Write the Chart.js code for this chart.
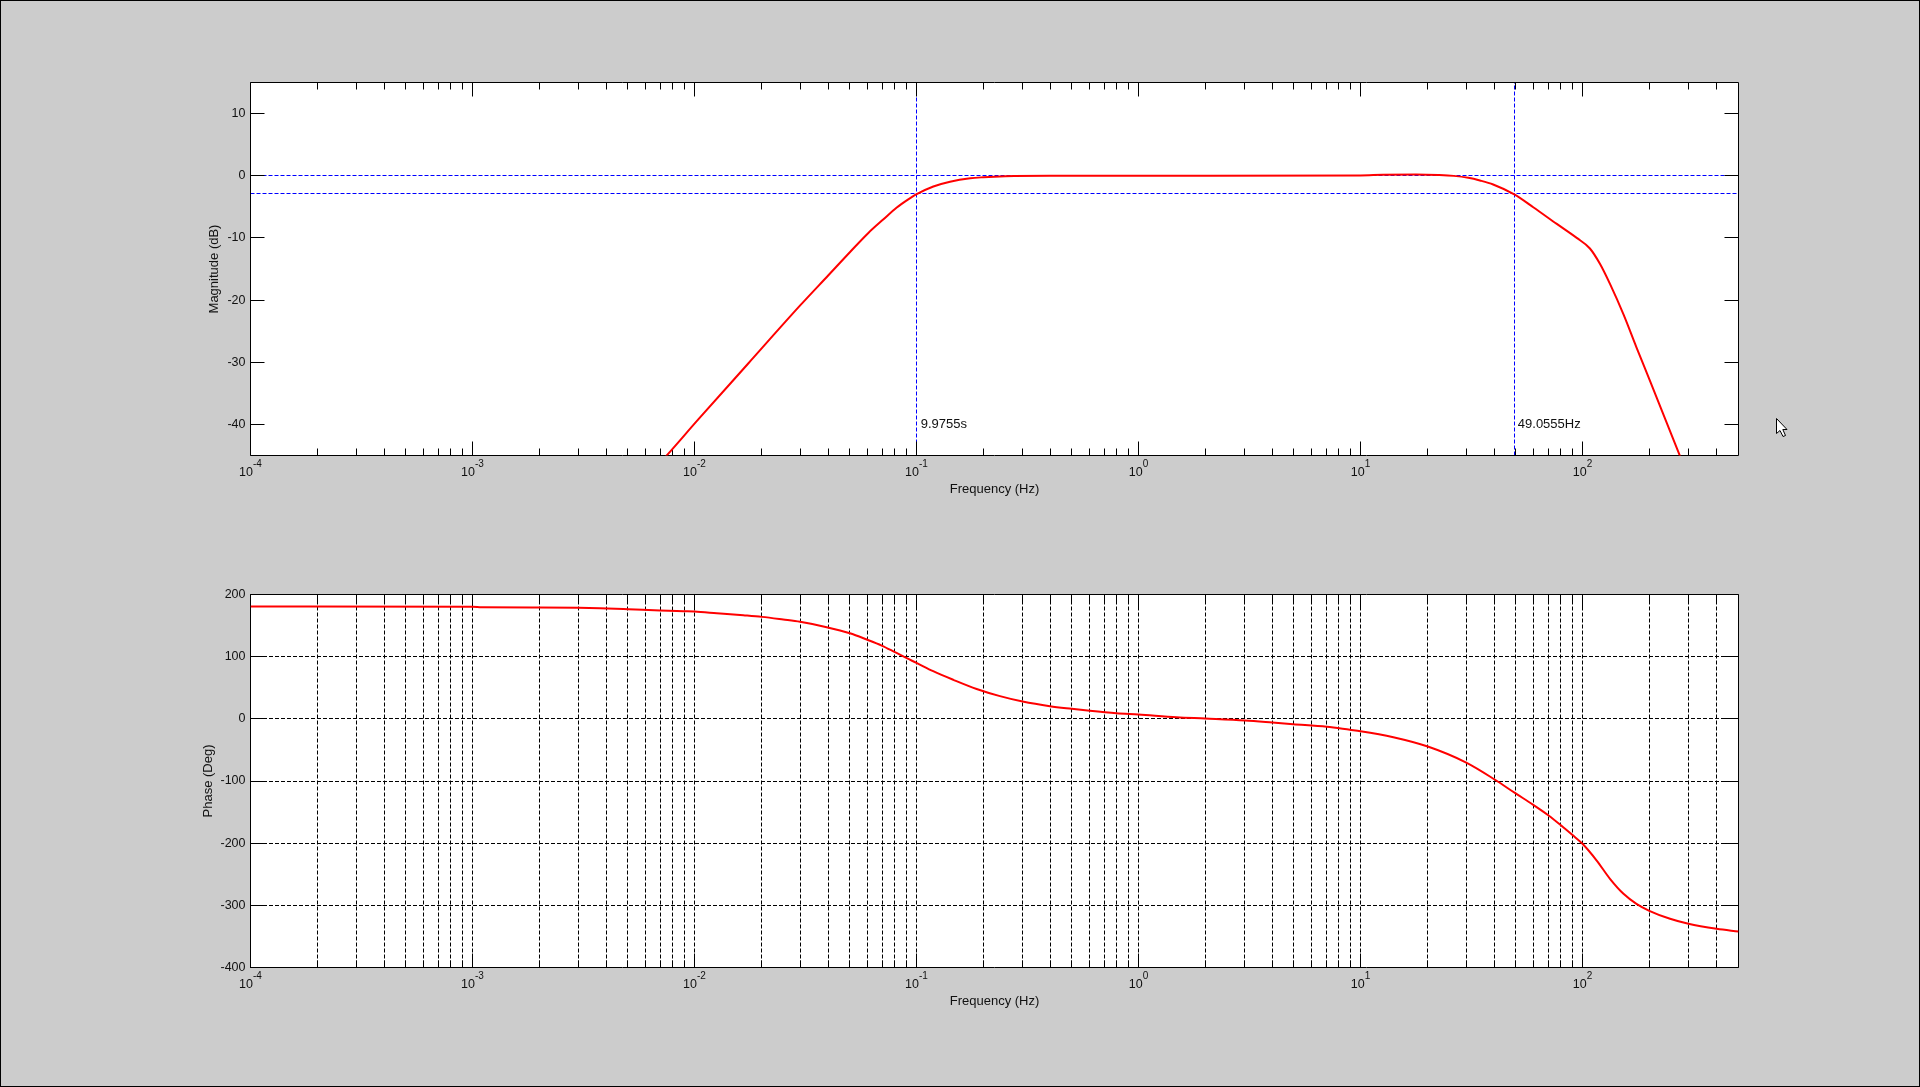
<!DOCTYPE html>
<html><head><meta charset="utf-8">
<style>
html,body{margin:0;padding:0;background:#cccccc;overflow:hidden}
#page{position:relative;width:1920px;height:1087px;box-sizing:border-box;border:1px solid #000;background:#cccccc;overflow:hidden}
canvas{position:absolute;left:-1px}
#c1{top:-1px}#c2{top:539px}
#cursor{position:absolute;left:1774px;top:416px}
</style>
<script src="https://cdn.jsdelivr.net/npm/chart.js@4"></script>
</head><body><div id="page">
<canvas id="c1" width="1920" height="540"></canvas>
<canvas id="c2" width="1920" height="547"></canvas>
<svg id="cursor" width="14" height="22" viewBox="0 0 14 22"><polygon points="1.5,1.5 1.5,16.5 5,13.5 8,19.5 10.5,18.5 7.8,12.5 12,12.5" fill="#fff" stroke="#000" stroke-width="1"/></svg>
</div>
<script>
const magFreq=[0.00631,0.00745,0.0104,0.01746,0.02985,0.0401,0.0501,0.0607,0.071,0.0815,0.0904,0.1002,0.1191,0.1416,0.1746,0.2,0.2506,0.399,1,10,12.6,17.8,22.4,26.3,30.6,34.5,39.6,49.3,60,76.6,94.2,108,120,133,153,175,201,275,316];
const magDb=[-47.9,-45.1,-39.2,-30.2,-20.9,-16,-12.3,-9.2,-7,-5.1,-3.95,-2.95,-1.72,-0.95,-0.4,-0.24,-0.08,0,0,0.05,0.15,0.2,0.12,-0.02,-0.33,-0.76,-1.4,-3,-5.06,-7.75,-10,-11.7,-14.2,-17.4,-22.3,-27.6,-32.9,-45.1,-50.6];
const phaseFreq=[0.0001,0.001,0.0011,0.002,0.003,0.00375,0.00503,0.007,0.00891,0.01,0.0126,0.0166,0.0201,0.0251,0.0299,0.0394,0.0501,0.0597,0.0697,0.08,0.0904,0.1,0.1189,0.1466,0.1866,0.2377,0.3006,0.399,0.5,0.604,0.796,1,1.486,2,3.02,4.01,4.98,7.05,8.97,10,14.06,20.1,30.1,40.2,49.8,60,70.1,80.2,89.9,100,115.9,133,153,175,200,248,300,402,504.4];
const phaseDeg=[180.6,180.3,179.3,179,178.5,177.9,176.3,174.2,173.1,172.6,169.9,166.6,164,159.7,156,147.4,137.7,127.6,117.9,107.2,97.5,90,76.6,62.7,48,36.5,27.8,20.3,16.1,12.9,9,6.9,2.6,0.5,-2.7,-6,-8.7,-12.9,-17.7,-19.9,-29.6,-44.6,-70.8,-97.6,-119.6,-138.3,-155,-171.6,-186.6,-201,-228,-257.4,-281.5,-297.6,-308.8,-321.7,-329.7,-337.8,-342.2];
const xDecades=[0.0001,0.001,0.01,0.1,1,10,100];
const xExponents=['-4','-3','-2','-1','0','1','2'];
const xMinorMultiples=[2,3,4,5,6,7,8,9];
const magTicks=[-40,-30,-20,-10,0,10];
const phaseTicks=[-400,-300,-200,-100,0,100,200];
const cursorFreqs=[0.10025,49.0555];
const cursorDbs=[0,-2.85];
const cursorLabels=['9.9755s','49.0555Hz'];
const cursorLabelDb=-40;
const xMin=0.0001,xMax=504.4,xLastTick=400;
const FONT="'Liberation Sans', Arial, sans-serif";
const majorSet=new Set(xDecades);
function xTickValues(){const o=[];xDecades.forEach(d=>{o.push(d);xMinorMultiples.forEach(m=>{const v=+(d*m).toPrecision(3);if(v<=xLastTick)o.push(v);});});return o;}
const pts=(xs,ys)=>xs.map((x,i)=>({x,y:ys[i]}));

const matlabAxes={id:'matlabAxes',
 beforeDraw(c){const a=c.chartArea,x=c.ctx;x.save();x.fillStyle='#fff';x.fillRect(a.left,a.top,a.right-a.left,a.bottom-a.top);x.restore();},
 beforeDatasetDraw(c,args){
  if(args.index!==0){
   const p=args.meta.data;
   if(p.length===2){
    if(p[0].x===p[1].x){const v=Math.floor(p[0].x+0.2)+0.5;p[0].x=p[1].x=v;}
    else{const v=Math.floor(p[0].y)+0.5;p[0].y=p[1].y=v;}
   }
   return;
  }
  const a=c.chartArea,x=c.ctx,sx=c.scales.x,sy=c.scales.y;x.save();x.strokeStyle='#000';x.lineWidth=1;x.setLineDash([]);x.beginPath();
  sx.ticks.forEach(t=>{const p=Math.floor(sx.getPixelForValue(t.value))+0.5,l=majorSet.has(t.value)?14:7;x.moveTo(p,a.bottom);x.lineTo(p,a.bottom-l);x.moveTo(p,a.top);x.lineTo(p,a.top+l);});
  sy.ticks.forEach(t=>{const p=Math.floor(sy.getPixelForValue(t.value))+0.5;x.moveTo(a.left,p);x.lineTo(a.left+14,p);x.moveTo(a.right,p);x.lineTo(a.right-14,p);});
  x.rect(a.left,a.top,a.right-a.left,a.bottom-a.top);x.stroke();x.restore();},
 afterDraw(c){const a=c.chartArea,x=c.ctx,sx=c.scales.x;x.save();x.fillStyle='#111';x.textBaseline='alphabetic';x.textAlign='left';
  xDecades.forEach((d,i)=>{const p=sx.getPixelForValue(d),e=xExponents[i];x.font='12.5px '+FONT;const w1=x.measureText('10').width;x.font='10px '+FONT;const w2=x.measureText(e).width;const l=p-(w1+w2)/2;
   x.font='12.5px '+FONT;x.fillText('10',l,a.bottom+20.5);x.font='10px '+FONT;x.fillText(e,l+w1,a.bottom+11);});
  x.restore();}
};
const cursorText={id:'cursorText',afterDraw(c){const x=c.ctx,sx=c.scales.x,sy=c.scales.y;x.save();x.font='13px '+FONT;x.fillStyle='#111';x.textBaseline='middle';x.textAlign='left';
  cursorFreqs.forEach((f,i)=>x.fillText(cursorLabels[i],sx.getPixelForValue(f)+4,sy.getPixelForValue(cursorLabelDb)));x.restore();}};

function options(yMin,yMax,yTicks,yLabel,yWidth,grid,pad){
 const dash=[4,2];
 return {responsive:false,animation:false,devicePixelRatio:1,events:[],
  layout:{autoPadding:false,padding:pad},
  plugins:{legend:{display:false},title:{display:false},tooltip:{enabled:false}},
  scales:{
   x:{type:'logarithmic',min:xMin,max:xMax,
      afterBuildTicks(s){s.ticks=xTickValues().map(v=>({value:v,major:majorSet.has(v)}));},
      afterFit(s){s.height=41.5;},
      grid:{display:grid,color:'#000',lineWidth:1,drawTicks:false},border:{display:false,dash},
      ticks:{display:false},
      title:{display:true,text:'Frequency (Hz)',color:'#111',font:{family:FONT,size:13},padding:0}},
   y:{type:'linear',min:yMin,max:yMax,
      afterBuildTicks(s){s.ticks=yTicks.map(v=>({value:v}));},
      afterFit(s){s.width=yWidth;},
      grid:{display:grid,color:'#000',lineWidth:1,drawTicks:false},border:{display:false,dash},
      ticks:{color:'#111',font:{family:FONT,size:12.5},padding:5,callback:v=>String(v)},
      title:{display:true,text:yLabel,color:'#111',font:{family:FONT,size:13},padding:0}}
  }};
}
const red=(d)=>({data:d,borderColor:'#ff0000',borderWidth:2,pointRadius:0,fill:false,tension:0,cubicInterpolationMode:'monotone'});
const blue=(d)=>({data:d,borderColor:'#0000ff',borderWidth:1,borderDash:[4,2],pointRadius:0,fill:false,tension:0});

new Chart(document.getElementById('c1'),{type:'line',
 data:{datasets:[red(pts(magFreq,magDb)),
   ...cursorFreqs.map(f=>blue(pts([f,f],[-45,15]))),
   ...cursorDbs.map(v=>blue(pts([xMin,xMax],[v,v])))]},
 options:options(-45,15,magTicks,'Magnitude (dB)',43.7,false,{left:206.8,top:82.5,right:181.5,bottom:43}),
 plugins:[matlabAxes,cursorText]});

new Chart(document.getElementById('c2'),{type:'line',
 data:{datasets:[red(pts(phaseFreq,phaseDeg))]},
 options:options(-400,200,phaseTicks,'Phase (Deg)',50.2,true,{left:200.3,top:54.5,right:181.5,bottom:78}),
 plugins:[matlabAxes]});
</script></body></html>
